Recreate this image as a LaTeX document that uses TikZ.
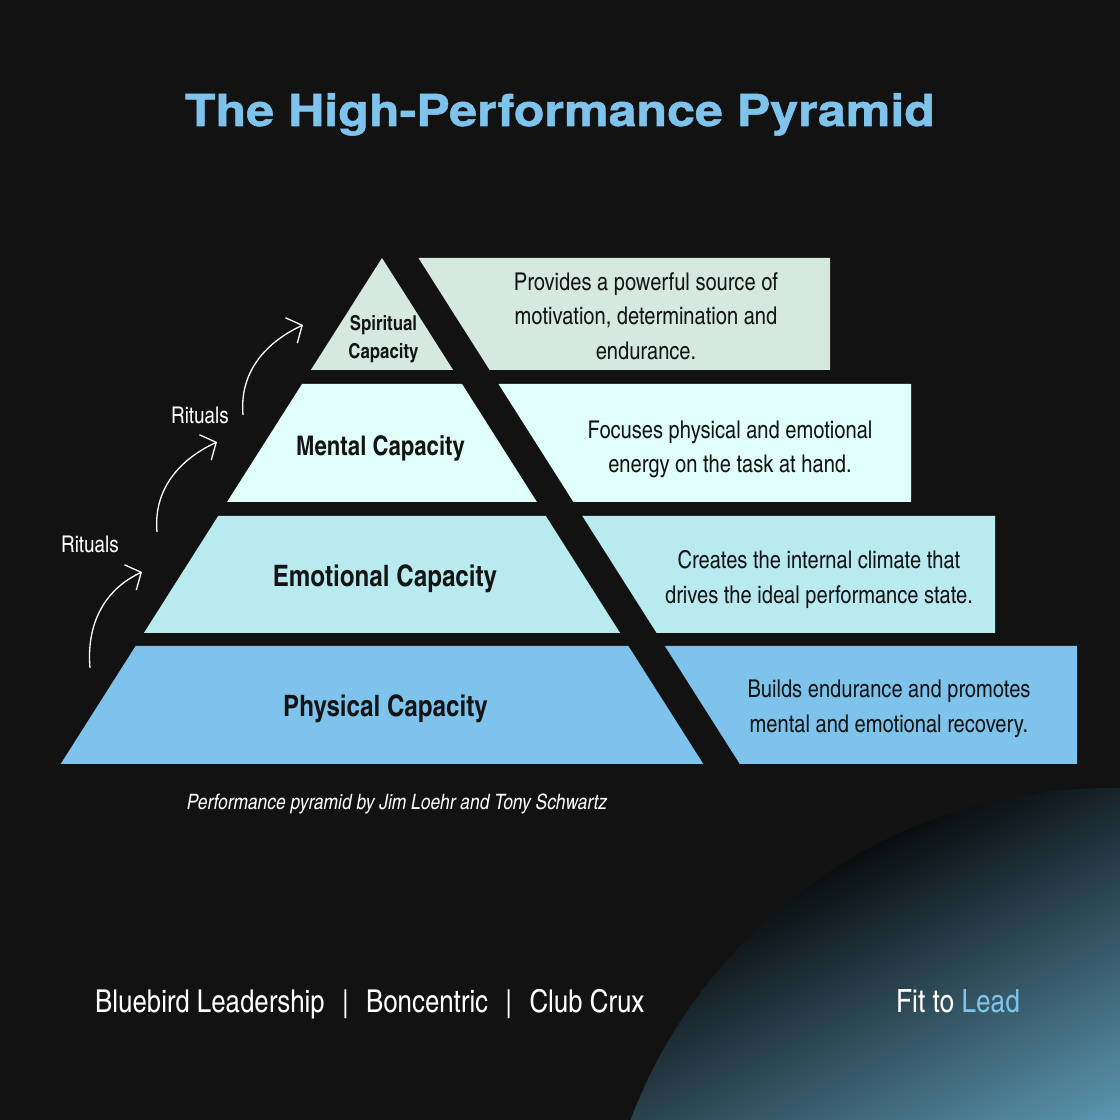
\documentclass[tikz,border=0pt]{standalone}
\usepackage{fontspec}
\setmainfont{texgyreheroscn}[Extension=.otf, UprightFont=*-regular,
  BoldFont=*-bold, ItalicFont=*-italic, BoldItalicFont=*-bolditalic]
\newfontfamily\titlefont{texgyreheros}[Extension=.otf, UprightFont=*-bold,
  FakeStretch=1.14, FakeBold=1.2]
\usetikzlibrary{arrows.meta,calc}
\definecolor{Night}{HTML}{121212}
\definecolor{Ink}{HTML}{141414}
\definecolor{Sky}{HTML}{7EC3EC}
\definecolor{Spirit}{HTML}{D5E9E1}
\definecolor{Mind}{HTML}{E0FFFA}
\definecolor{Heart}{HTML}{B8EAEF}
\definecolor{Body}{HTML}{7EC3EC}
\definecolor{Deep}{HTML}{080B0D}
\definecolor{Lagoon}{HTML}{5C98B2}

\begin{document}
\begin{tikzpicture}[x=1pt,y=1pt,
    layer/.style={font=\fontsize{29.5}{32}\selectfont\bfseries,text=Ink},
    desc/.style={font=\fontsize{24.5}{34.5}\selectfont,text=Ink,align=center},
    ritual/.style={font=\fontsize{23}{26}\selectfont,text=white},
    ritualarrow/.style={white,line width=1.3pt,
      -{Straight Barb[length=12pt,width=28pt,line width=1.3pt]}}]
        \fill[Night] (0,0) rectangle (1120,1120);
        \useasboundingbox (0,0) rectangle (1120,1120);
        % glow in the corner
        \begin{scope}
          \clip (1110,-180) circle (512);
          \shade[transform canvas={rotate=26.6},top color=Deep,bottom color=Lagoon]
                (480,-140) rectangle (1250,-505);
        \end{scope}
        \node[anchor=base,text=Sky,font=\titlefont\fontsize{44}{50}\selectfont]
              (title) at (560,994) {The High-Performance Pyramid};
        % pyramid layers and their descriptions
        \foreach \t/\b/\r/\c in {862/750/830/Spirit,736/618/911/Mind,
                                 604/487/995/Heart,474/356/1077/Body}{
          \pgfmathsetmacro\wt{0.635*(862-\t)}
          \pgfmathsetmacro\wb{0.635*(862-\b)}
          \fill[\c] (382-\wt,\t) -- (382+\wt,\t) -- (382+\wb,\b)
                    -- (382-\wb,\b) -- cycle;
          \fill[\c] (418.5+\wt,\t) -- (\r,\t) -- (\r,\b)
                    -- (418.5+\wb,\b) -- cycle;
        }
        \node[layer,align=center,font=\fontsize{20.5}{28}\selectfont\bfseries]
              (spiritual) at (383.5,781) {Spiritual\\Capacity};
        \node[layer,anchor=base,font=\fontsize{27}{30}\selectfont\bfseries]
              (mental) at (380.5,664) {Mental Capacity};
        \node[layer,anchor=base] (emotional) at (385,533) {Emotional Capacity};
        \node[layer,anchor=base] (physical) at (385.5,403) {Physical Capacity};
        \node[desc] (spiritualdesc) at (646,804)
              {Provides a powerful source of\\motivation, determination and\\endurance.};
        \node[desc] (mentaldesc) at (730,670.5)
              {Focuses physical and emotional\\energy on the task at hand.};
        \node[desc] (emotionaldesc) at (819,540.5)
              {Creates the internal climate that\\drives the ideal performance state.};
        \node[desc] (physicaldesc) at (889,411)
              {Builds endurance and promotes\\mental and emotional recovery.};
        % rituals climbing the levels
        \node[ritual,anchor=base] (ritualslow) at (90,567) {Rituals};
        \node[ritual,anchor=base] (ritualshigh) at (200,696) {Rituals};
        \coordinate (up1) at (90,452);
        \coordinate (up1end) at (142,548);
        \coordinate (up2) at (157,588);
        \coordinate (up2end) at (217,678);
        \coordinate (up3) at (243,705);
        \coordinate (up3end) at (303,795);
        \draw[ritualarrow] (up1) to[out=95,in=205] (up1end);
        \draw[ritualarrow] (up2) to[out=95,in=205] (up2end);
        \draw[ritualarrow] (up3) to[out=95,in=205] (up3end);
        \node[anchor=base,text=white,font=\fontsize{21.2}{24}\selectfont\itshape]
              (credit) at (397,310)
              {Performance pyramid by Jim Loehr and Tony Schwartz};
        \node[anchor=base west,inner sep=0pt,text=white,
              font=\fontsize{31.5}{34}\selectfont] (partners) at (95,107)
              {Bluebird Leadership\hspace{.55em}|\hspace{.55em}Boncentric\hspace{.55em}|\hspace{.55em}Club Crux};
        \node[anchor=base west,inner sep=0pt,text=white,
              font=\fontsize{32}{34}\selectfont] (brand) at (896,107)
              {Fit to \textcolor{Sky}{Lead}};
\end{tikzpicture}
\end{document}
